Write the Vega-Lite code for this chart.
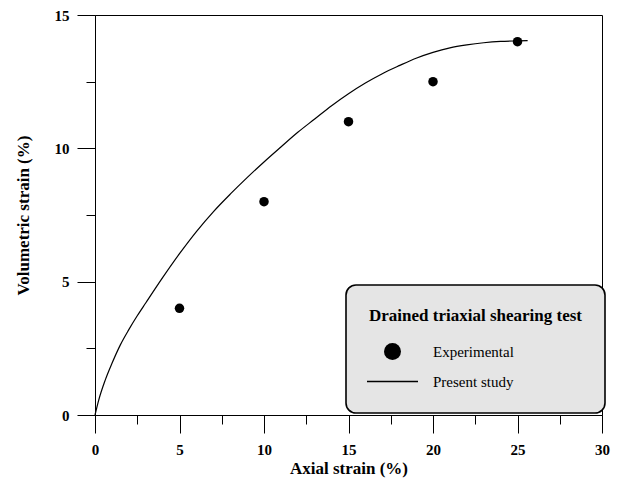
{
  "$schema": "https://vega.github.io/schema/vega-lite/v6.json",
  "width": 507,
  "height": 400,
  "autosize": "none",
  "padding": {"left": 95, "top": 15, "right": 24, "bottom": 69},
  "background": "white",
  "config": {
    "view": {"stroke": "black", "strokeWidth": 1},
    "font": "Liberation Serif",
    "legend": {"strokeWidth": 1.6},
    "axis": {
      "grid": false,
      "domainColor": "black",
      "domainWidth": 1,
      "tickColor": "black",
      "tickWidth": 1,
      "labelColor": "black",
      "labelFont": "Liberation Serif",
      "labelFontWeight": "bold",
      "labelFontSize": 15,
      "labelFlush": false,
      "titleColor": "black",
      "titleFont": "Liberation Serif",
      "titleFontWeight": "bold",
      "titleFontSize": 17
    }
  },
  "resolve": {"axis": {"x": "independent", "y": "independent"}},
  "layer": [
    {
      "data": {"values": [
        {"x": 0, "y": 0},
        {"x": 0.22, "y": 0.56},
        {"x": 0.6, "y": 1.3},
        {"x": 1.0, "y": 1.93},
        {"x": 1.5, "y": 2.63},
        {"x": 2.0, "y": 3.2},
        {"x": 2.5, "y": 3.72},
        {"x": 3.0, "y": 4.2},
        {"x": 4.0, "y": 5.15},
        {"x": 5.0, "y": 6.05},
        {"x": 6.0, "y": 6.88},
        {"x": 7.0, "y": 7.62},
        {"x": 8.0, "y": 8.28},
        {"x": 9.0, "y": 8.9},
        {"x": 10.0, "y": 9.49},
        {"x": 11.0, "y": 10.05},
        {"x": 12.0, "y": 10.6},
        {"x": 13.0, "y": 11.1},
        {"x": 14.0, "y": 11.6},
        {"x": 15.0, "y": 12.05},
        {"x": 16.0, "y": 12.45},
        {"x": 17.0, "y": 12.8},
        {"x": 18.0, "y": 13.1},
        {"x": 19.0, "y": 13.38},
        {"x": 20.0, "y": 13.6},
        {"x": 21.0, "y": 13.77},
        {"x": 22.0, "y": 13.88},
        {"x": 23.0, "y": 13.96},
        {"x": 24.0, "y": 14.01},
        {"x": 25.0, "y": 14.03},
        {"x": 25.6, "y": 14.04}
      ]},
      "mark": {"type": "line", "color": "black", "strokeWidth": 1.2, "interpolate": "monotone"},
      "encoding": {
        "x": {"field": "x", "type": "quantitative",
          "scale": {"domain": [0, 30], "nice": false, "zero": false},
          "axis": {"orient": "bottom", "values": [0, 5, 10, 15, 20, 25, 30], "tickSize": 18, "labelPadding": 9, "title": "Axial strain (%)", "titlePadding": 3}},
        "y": {"field": "y", "type": "quantitative",
          "scale": {"domain": [0, 15], "nice": false, "zero": false},
          "axis": {"orient": "left", "values": [0, 5, 10, 15], "tickSize": 18, "labelPadding": 8, "title": "Volumetric strain (%)", "titlePadding": 22}}
      }
    },
    {
      "data": {"values": [
        {"x": 5, "y": 4, "series": "Experimental"},
        {"x": 10, "y": 8, "series": "Experimental"},
        {"x": 15, "y": 11, "series": "Experimental"},
        {"x": 20, "y": 12.5, "series": "Experimental"},
        {"x": 25, "y": 14, "series": "Experimental"}
      ]},
      "mark": {"type": "point", "filled": true, "color": "black", "opacity": 1, "size": 90},
      "encoding": {
        "x": {"field": "x", "type": "quantitative",
          "axis": {"orient": "bottom", "values": [2.5, 7.5, 12.5, 17.5, 22.5, 27.5], "tickSize": 9, "labels": false, "domain": false, "title": null}},
        "y": {"field": "y", "type": "quantitative",
          "axis": {"orient": "left", "values": [2.5, 7.5, 12.5], "tickSize": 9, "labels": false, "domain": false, "title": null}},
        "shape": {"field": "series", "type": "nominal",
          "scale": {"domain": ["Experimental", "Present study"], "range": ["circle", "M-3,-0.075L3,-0.075L3,0.075L-3,0.075Z"]},
          "legend": {
            "orient": "none", "legendX": 251, "legendY": 270,
            "title": "Drained triaxial shearing test",
            "titleFont": "Liberation Serif", "titleFontSize": 17, "titleFontWeight": "bold", "titleColor": "black",
            "titleAnchor": "start", "titlePadding": 18, "titleLimit": 500,
            "labelFont": "Liberation Serif", "labelFontSize": 15, "labelColor": "black",
            "labelOffset": 32, "labelLimit": 300,
            "fillColor": "#e5e5e5", "strokeColor": "black", "cornerRadius": 10, "padding": 23,
            "rowPadding": 13,
            "symbolSize": 289, "symbolOffset": 15,
            "symbolFillColor": "black", "symbolStrokeColor": "black", "symbolStrokeWidth": 0,
            "symbolOpacity": 1
          }}
      }
    }
  ]
}
